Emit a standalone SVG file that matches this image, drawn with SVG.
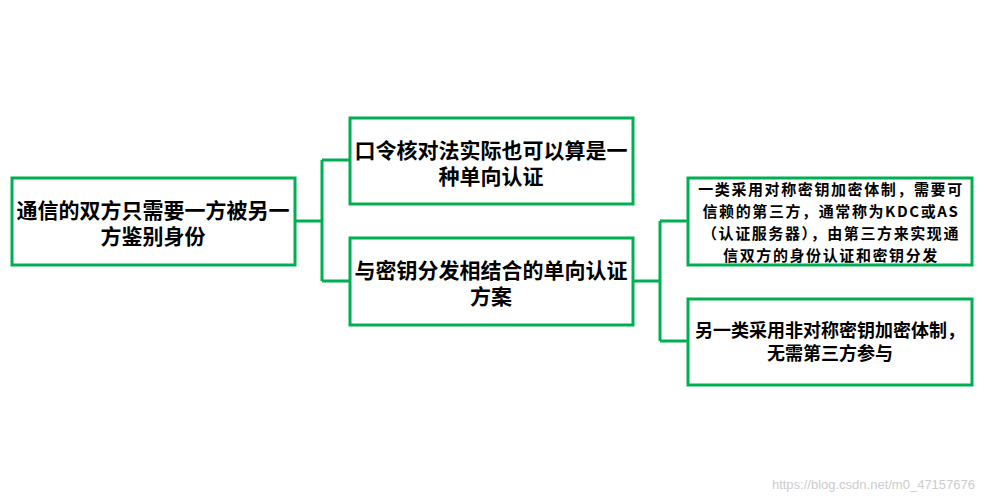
<svg xmlns="http://www.w3.org/2000/svg" width="984" height="504" viewBox="0 0 984 504">
<style>
.box{fill:#fff;stroke:#00b050;stroke-width:3}
.c{fill:none;stroke:#00b050;stroke-width:3}
text{font-family:"Noto Sans CJK SC","Liberation Sans",sans-serif;font-weight:bold;fill:#000;text-anchor:middle}
.t1{font-size:21px}.t2{font-size:15px;letter-spacing:1.6px}.t3{font-size:18px}
.wm{font-family:"Liberation Sans",sans-serif;font-weight:normal;font-size:13px;fill:#ccc;text-anchor:end}
</style>
<rect width="984" height="504" fill="#fff"/>
<g id="connectors">
<path class="c" d="M295 221H322M322 160V281M322 160H350M322 281H350"/>
<path class="c" d="M633 281H660M660 221V341M660 221H688M660 341H688"/>
</g>
<g id="n1"><rect class="box" x="12" y="178" width="283" height="87"/><text class="t1" x="153" y="218">通信的双方只需要一方被另一</text><text class="t1" x="153" y="244">方鉴别身份</text></g>
<g id="n2"><rect class="box" x="350" y="118" width="283" height="86"/><text class="t1" x="491" y="158">口令核对法实际也可以算是一</text><text class="t1" x="491" y="184">种单向认证</text></g>
<g id="n3"><rect class="box" x="350" y="238" width="283" height="87"/><text class="t1" x="491" y="278">与密钥分发相结合的单向认证</text><text class="t1" x="491" y="304">方案</text></g>
<g id="n4"><rect class="box" x="688" y="178" width="284" height="87"/><text class="t2" x="831" y="195">一类采用对称密钥加密体制，需要可</text><text class="t2" x="831" y="217">信赖的第三方，通常称为KDC或AS</text><text class="t2" x="831" y="239">（认证服务器），由第三方来实现通</text><text class="t2" x="831" y="261">信双方的身份认证和密钥分发</text></g>
<g id="n5"><rect class="box" x="688" y="299" width="284" height="86"/><text class="t3" x="830" y="337">另一类采用非对称密钥加密体制，</text><text class="t3" x="830" y="360">无需第三方参与</text></g>
<text class="wm" x="975" y="489">https://blog.csdn.net/m0_47157676</text>
</svg>
